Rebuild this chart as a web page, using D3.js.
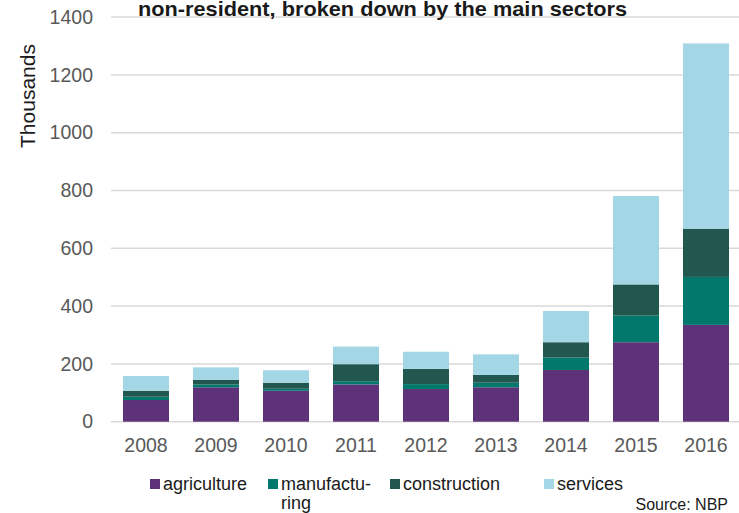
<!DOCTYPE html>
<html>
<head>
<meta charset="utf-8">
<script src="https://cdn.jsdelivr.net/npm/d3@7"></script>
<style>
  html, body { margin: 0; padding: 0; background: #ffffff; }
  svg { display: block; }
</style>
</head>
<body>
<svg id="chart" width="739" height="513"></svg>
<script>
// Non-resident workers by main sector, thousands
const years = ["2008", "2009", "2010", "2011", "2012", "2013", "2014", "2015", "2016"];
const agriculture   = [75, 119, 107, 129, 113, 119, 179, 275, 335];
const manufacturing = [11.5, 10, 7, 11, 17, 16, 43, 92, 166];
const construction  = [20.5, 16, 21, 59, 53, 27, 53, 108, 167];
const services      = [51, 43, 43, 61, 59, 71, 108, 306, 641];
const yTicks = [0, 200, 400, 600, 800, 1000, 1200, 1400];

const seriesKeys   = ["agriculture", "manufacturing", "construction", "services"];
const seriesLabels = ["agriculture", "manufactu-\nring", "construction", "services"];
const colors = {
  agriculture: "#5d3279",
  manufacturing: "#00786c",
  construction: "#22574f",
  services: "#a4d7e5"
};

const rows = years.map((y, i) => ({
  year: y,
  agriculture: agriculture[i],
  manufacturing: manufacturing[i],
  construction: construction[i],
  services: services[i]
}));

const svg = d3.select("#chart");
const font = "'Liberation Sans', Arial, sans-serif";

const x = d3.scaleBand()
  .domain(years)
  .range([111, 741])
  .paddingInner(0.343)
  .paddingOuter(0.1715);

const y = d3.scaleLinear()
  .domain([0, 1400])
  .range([421.7, 17.1]);

// gridlines
svg.append("g")
  .selectAll("line")
  .data(yTicks)
  .join("line")
  .attr("x1", 111)
  .attr("x2", 739)
  .attr("y1", d => y(d))
  .attr("y2", d => y(d))
  .attr("stroke", "#d9d9d9")
  .attr("stroke-width", 1.5);

// y-axis labels
const yAxis = svg.append("g")
  .attr("transform", "translate(93,0)")
  .call(d3.axisLeft(y).tickValues(yTicks).tickFormat(d3.format("d")).tickSize(0).tickPadding(0));
yAxis.select(".domain").remove();
yAxis.selectAll("text")
  .attr("font-family", font)
  .attr("font-size", 19.5)
  .attr("fill", "#595959");

// x-axis labels
const xAxis = svg.append("g")
  .attr("transform", "translate(0,421.7)")
  .call(d3.axisBottom(x).tickSize(0).tickPadding(16));
xAxis.select(".domain").remove();
xAxis.selectAll("text")
  .attr("font-family", font)
  .attr("font-size", 19.5)
  .attr("fill", "#595959");

// stacked bars
const stack = d3.stack().keys(seriesKeys)(rows);
svg.append("g")
  .selectAll("g")
  .data(stack)
  .join("g")
  .attr("fill", d => colors[d.key])
  .selectAll("rect")
  .data(d => d)
  .join("rect")
  .attr("x", d => x(d.data.year))
  .attr("width", x.bandwidth())
  .attr("y", d => y(d[1]))
  .attr("height", d => y(d[0]) - y(d[1]));

// y-axis title
svg.append("text")
  .attr("transform", "translate(35,96) rotate(-90)")
  .attr("text-anchor", "middle")
  .attr("font-family", font)
  .attr("font-size", 20)
  .attr("textLength", 104)
  .attr("lengthAdjust", "spacingAndGlyphs")
  .attr("fill", "#1a1a1a")
  .text("Thousands");

// chart title
svg.append("text")
  .attr("x", 138)
  .attr("y", 16)
  .attr("font-family", "'Liberation Sans Narrow', 'Liberation Sans', Arial, sans-serif")
  .attr("font-weight", "bold")
  .attr("font-size", 20.5)
  .attr("textLength", 489)
  .attr("lengthAdjust", "spacingAndGlyphs")
  .attr("fill", "#1a1a1a")
  .text("non-resident, broken down by the main sectors");

// legend
const legendPos = [150, 268, 390, 544];
const legend = svg.append("g");
seriesKeys.forEach((k, i) => {
  const g = legend.append("g").attr("transform", `translate(${legendPos[i]},0)`);
  g.append("rect")
    .attr("x", 0).attr("y", 479)
    .attr("width", 10).attr("height", 10)
    .attr("fill", colors[k]);
  const t = g.append("text")
    .attr("x", 13)
    .attr("y", 490)
    .attr("font-family", font)
    .attr("font-size", 18)
    .attr("fill", "#1a1a1a");
  seriesLabels[i].split("\n").forEach((line, j) => {
    t.append("tspan").attr("x", 13).attr("dy", j === 0 ? 0 : 19).text(line);
  });
});

// source note
svg.append("text")
  .attr("x", 728)
  .attr("y", 510)
  .attr("text-anchor", "end")
  .attr("font-family", font)
  .attr("font-size", 16)
  .attr("fill", "#1a1a1a")
  .text("Source: NBP");
</script>
</body>
</html>
